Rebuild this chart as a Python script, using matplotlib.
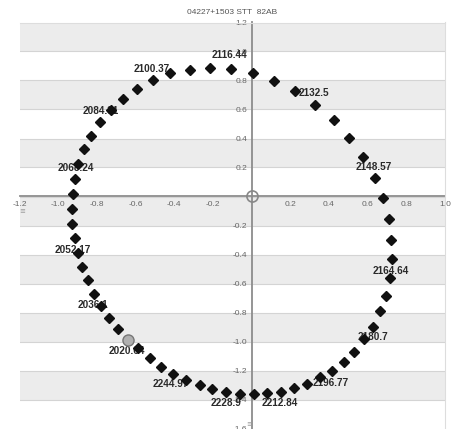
import matplotlib.pyplot as plt

plt.rcParams['axes.unicode_minus'] = False

title = "04227+1503 STT  82AB"

# orbit points, clockwise starting after the current position
orbit_x = [-0.639, -0.691, -0.738, -0.781, -0.814, -0.847, -0.877, -0.898, -0.915, -0.929,
           -0.929, -0.924, -0.911, -0.896, -0.868, -0.830, -0.785, -0.729, -0.665, -0.595,
           -0.510, -0.420, -0.321, -0.217, -0.109, 0.005, 0.116, 0.226, 0.330, 0.425,
           0.505, 0.578, 0.637, 0.680, 0.708, 0.722, 0.724, 0.717, 0.694, 0.665,
           0.630, 0.582, 0.531, 0.477, 0.417, 0.352, 0.288, 0.219, 0.151, 0.082,
           0.012, -0.061, -0.132, -0.203, -0.269, -0.339, -0.405, -0.469, -0.526, -0.587]
orbit_y = [-0.988, -0.916, -0.840, -0.755, -0.670, -0.578, -0.484, -0.388, -0.288, -0.190,
           -0.086, 0.019, 0.121, 0.224, 0.326, 0.415, 0.514, 0.594, 0.674, 0.741,
           0.801, 0.850, 0.874, 0.884, 0.879, 0.850, 0.794, 0.728, 0.631, 0.528,
           0.401, 0.272, 0.130, -0.008, -0.155, -0.300, -0.433, -0.564, -0.684, -0.790,
           -0.898, -0.985, -1.070, -1.139, -1.201, -1.247, -1.291, -1.323, -1.346, -1.357,
           -1.362, -1.360, -1.348, -1.328, -1.298, -1.266, -1.224, -1.174, -1.114, -1.047]

# current position
now_x = [-0.639]
now_y = [-0.988]

# epoch labels
label_text = ["2020.64", "2036.1", "2052.17", "2068.24", "2084.31", "2100.37", "2116.44",
              "2132.5", "2148.57", "2164.64", "2180.7", "2196.77", "2212.84", "2228.9", "2244.97"]
label_x = [-0.646, -0.818, -0.922, -0.911, -0.781, -0.516, -0.115,
           0.323, 0.630, 0.719, 0.630, 0.411, 0.146, -0.130, -0.417]
label_y = [-1.066, -0.748, -0.369, 0.197, 0.590, 0.879, 0.976,
           0.714, 0.203, -0.514, -0.969, -1.286, -1.424, -1.424, -1.293]

x_ticks = [-1.2, -1.0, -0.8, -0.6, -0.4, -0.2, 0.2, 0.4, 0.6, 0.8, 1.0]
y_ticks = [1.2, 1.0, 0.8, 0.6, 0.4, 0.2, -0.2, -0.4, -0.6, -0.8, -1.0, -1.2, -1.4, -1.6]

fig = plt.figure(figsize=(4.63, 4.29), dpi=100)
ax = fig.add_axes([19.5 / 463, 0.5 / 429, 425.5 / 463, 406 / 429])
ax.set_xlim(-1.2, 1.0)
ax.set_ylim(-1.6, 1.2)

# alternating bands
edges = [1.2 - 0.2 * i for i in range(15)]
for i in range(14):
    if i % 2 == 0:
        ax.axhspan(edges[i + 1], edges[i], color='#ececec', lw=0, zorder=0)
    ax.axhline(edges[i], color='#d4d4d4', lw=0.8, zorder=1)

for s in ['top', 'right']:
    ax.spines[s].set_color('#dddddd')
    ax.spines[s].set_linewidth(0.8)
for s in ['left', 'bottom']:
    ax.spines[s].set_position(('data', 0))
    ax.spines[s].set_color('#8c8c8c')
    ax.spines[s].set_linewidth(1.3)
    ax.spines[s].set_zorder(2)

ax.set_xticks(x_ticks)
ax.set_yticks(y_ticks)
ax.set_xticklabels([f"{v:.1f}" for v in x_ticks])
ax.set_yticklabels([f"{v:.1f}" for v in y_ticks])
ax.tick_params(length=0, pad=3, labelsize=6, labelcolor='#666666')
for t in ax.get_xticklabels() + ax.get_yticklabels():
    t.set_family(['Liberation Sans', 'DejaVu Sans'])

ax.plot(orbit_x, orbit_y, 'D', color='#111111', ms=4.8, zorder=5)
ax.plot([0], [0], 'o', mfc='none', mec='#888888', mew=1.2, ms=8, zorder=5)
ax.plot(now_x, now_y, 'o', mfc='#b0b0b0', mec='#777777', mew=1.0, ms=8, zorder=6)

for t, lx, ly in zip(label_text, label_x, label_y):
    ax.text(lx, ly, t, ha='center', va='center', fontsize=7.2, fontweight='bold',
            color='#2a2a2a', family=['Liberation Sans', 'DejaVu Sans'], zorder=4)

fig.text(232 / 463, 1 - 12 / 429, title, ha='center', va='center', fontsize=6,
         color='#555555', family=['Liberation Sans', 'DejaVu Sans'])
fig.text(22 / 463, 1 - 211 / 429, "\u2261", ha='center', va='center', fontsize=5, color='#999999')
fig.text(249 / 463, 1 - 424 / 429, "\u2261", ha='center', va='center', fontsize=5, color='#999999')

fig.savefig("out.png", dpi=100)
